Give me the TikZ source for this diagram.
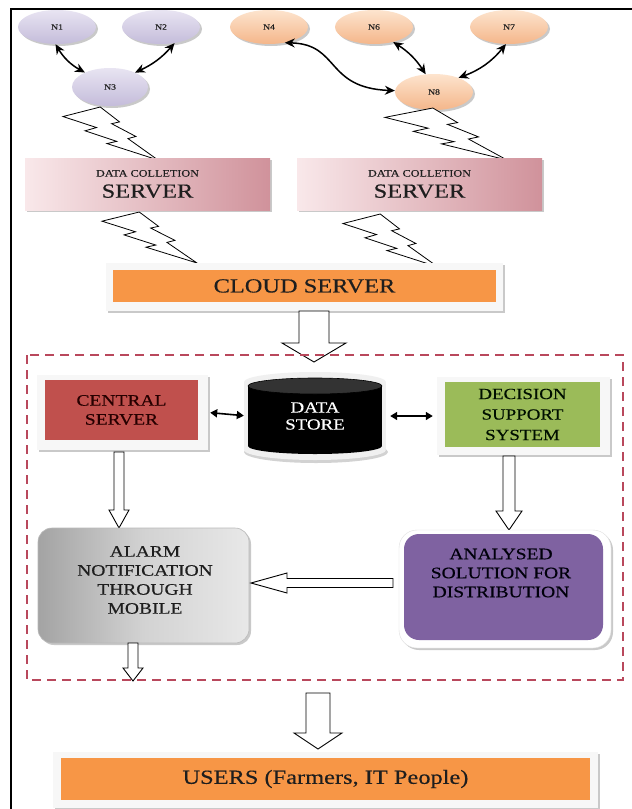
\documentclass[tikz,border=0pt]{standalone}
\usepackage{fontspec}
\setmainfont{Liberation Serif}[FakeStretch=1.22,FakeBold=0.35]
\usetikzlibrary{arrows.meta,shadows,shapes.geometric}
\definecolor{lav1}{HTML}{E8E4F2}
\definecolor{lav2}{HTML}{C4BCDA}
\definecolor{peach1}{HTML}{FDE4CE}
\definecolor{peach2}{HTML}{F4B68A}
\definecolor{pink1}{HTML}{F9E8EA}
\definecolor{pink2}{HTML}{D0929B}
\definecolor{orng}{HTML}{F79646}
\definecolor{redbox}{HTML}{C0504D}
\definecolor{greenbox}{HTML}{9BBB59}
\definecolor{purplebox}{HTML}{7F62A1}
\definecolor{dashred}{HTML}{B9485C}
\definecolor{txt}{HTML}{1E1E1E}
\tikzset{
  shad/.style={drop shadow={shadow xshift=2pt,shadow yshift=-2pt,opacity=0.35,fill=black!60}},
  nlav/.style={ellipse,minimum width=78pt,minimum height=34pt,top color=lav1,bottom color=lav2,shad,
    font=\fontsize{8}{9}\selectfont,text=txt,inner sep=0pt},
  npch/.style={ellipse,minimum width=78pt,minimum height=34pt,top color=peach1,bottom color=peach2,shad,
    font=\fontsize{8}{9}\selectfont,text=txt,inner sep=0pt},
  conn/.style={line width=1.5pt,{Stealth[length=10pt,width=9pt]}-{Stealth[length=10pt,width=9pt]}},
  dbl/.style={line width=1.6pt,{Triangle[length=7pt,width=8pt]}-{Triangle[length=7pt,width=8pt]}},
  bolt/.style={draw=black,fill=white,line width=0.8pt,line join=miter},
  hollow/.style={draw=black,fill=white,line width=0.9pt,line join=miter},
  server/.style={rectangle,minimum width=245pt,minimum height=52pt,left color=pink1,right color=pink2,
    shad,align=center,text=txt,inner sep=0pt,font=\fontsize{20}{21}\selectfont},
  frame/.style={rectangle,fill=gray!6,shad,inner sep=0pt},
  boxtxt/.style={align=center,font=\fontsize{16}{19}\selectfont,inner sep=0pt}
}
\newcommand{\hdown}[6]{%
  \draw[hollow] (#1-#5,#2) -- (#1+#5,#2) -- (#1+#5,#3) -- (#1+#6,#3) -- (#1,#4) -- (#1-#6,#3) -- (#1-#5,#3) -- cycle;}
\newcommand{\lbolt}[4]{%
  \begin{scope}[shift={(#1,#2)},x=#3pt,y=-#4pt]
  \draw[bolt] (0.392,0) -- (0.595,0.281) -- (0.512,0.315) -- (0.767,0.556) -- (0.684,0.596) -- (1,1)
    -- (0.463,0.690) -- (0.566,0.648) -- (0.232,0.449) -- (0.353,0.388) -- (0,0.180) -- cycle;
  \end{scope}}
\begin{document}
\begin{tikzpicture}[x=1pt,y=-1pt]
\useasboundingbox (0,0) rectangle (632,809);
\fill[white] (0,0) rectangle (632,809);
% outer border lines
\draw[line width=1.5pt] (11,809) -- (11,9) -- (632,9);

% sensor nodes
\node[nlav] (n1) at (57,27) {N1};
\node[nlav] (n2) at (161,27) {N2};
\node[nlav,minimum width=76pt,minimum height=38pt] (n3) at (110,87) {N3};
\node[npch] (n4) at (269,27) {N4};
\node[npch] (n6) at (374,27) {N6};
\node[npch] (n7) at (509,27) {N7};
\node[npch,minimum width=78pt,minimum height=36pt] (n8) at (434,92) {N8};

\draw[conn] (n1.-95) to[bend right=15] (n3.150);
\draw[conn] (n2.-50) to[bend left=12] (n3.30);
\draw[conn] (n4.-45) .. controls (340,44) and (325,88) .. (n8.178);
\draw[conn] (n6.-38) to[bend left=12] (n8.115);
\draw[conn] (n7.-100) to[bend left=15] (n8.30);

% lightning bolts
\lbolt{63}{107}{95}{53}
\lbolt{385}{108}{122}{52}
\lbolt{102}{212}{95}{51}
\lbolt{343}{214}{95}{53}

% data collection servers
\node[server] (s1) at (147.5,184) {{\fontsize{10}{12}\selectfont DATA COLLETION}\\{SERVER}};
\node[server] (s2) at (419.5,184) {{\fontsize{10}{12}\selectfont DATA COLLETION}\\{SERVER}};

% cloud server
\node[frame,minimum width=397pt,minimum height=48pt] (cloudf) at (304.5,287) {};
\node[rectangle,fill=orng,minimum width=383pt,minimum height=32pt,inner sep=0pt,
  font=\fontsize{20}{22}\selectfont,text=txt] (cloud) at (304.5,286) {CLOUD SERVER};

\hdown{314}{311}{343}{362}{15}{32}

% dashed container
\draw[dashred,line width=2.2pt,dash pattern=on 9pt off 6pt] (27,355) rectangle (623,680);

% central server
\node[frame,minimum width=171pt,minimum height=75pt] (csf) at (122.5,412.5) {};
\node[rectangle,fill=redbox,minimum width=153pt,minimum height=60pt,boxtxt,text={black!75!red!60!black}] (cs) at (121.5,410) {CENTRAL\\SERVER};

% data store cylinder
\fill[gray!12] (315,382) ellipse [x radius=71, y radius=10];
\fill[gray!12] (244,382) rectangle (386,450);
\fill[gray!35] (316,452) ellipse [x radius=72, y radius=11];
\fill[gray!12] (315,450) ellipse [x radius=71, y radius=10];
\fill[black] (248,386) rectangle (382,446);
\fill[black] (315,446) ellipse [x radius=67, y radius=8];
\fill[black!80] (315,386) ellipse [x radius=67, y radius=8];
\draw[black,line width=0.6pt] (315,386) ellipse [x radius=67, y radius=8];
\node[boxtxt,font=\fontsize{15.5}{17}\selectfont,text=white,minimum width=134pt,minimum height=76pt] (ds) at (315,416) {DATA\\STORE};

% decision support system
\node[frame,minimum width=173pt,minimum height=78pt] (dssf) at (523.5,416) {};
\node[rectangle,fill=greenbox,minimum width=155pt,minimum height=65pt,boxtxt,
  font=\fontsize{15.5}{20.5}\selectfont,text={black!85!green!40!black}] (dss) at (522.5,414.5) {DECISION\\SUPPORT\\SYSTEM};

\draw[dbl,shorten <=2pt,shorten >=4pt] (csf.east) -- (ds.west);
\draw[dbl,shorten <=8pt,shorten >=4pt] (ds.east) -- (dssf.west);

% down arrows inside
\hdown{119}{452}{510}{528}{5}{10}
\hdown{509}{456}{511}{530}{6}{13}

% alarm box
\node[rectangle,rounded corners=14pt,left color=gray!72,right color=gray!18,middle color=gray!35,
  draw=gray!55,line width=0.6pt,shad,minimum width=211pt,minimum height=115pt,boxtxt,text=txt] (alarm) at (143.5,585.5) {};
\node[boxtxt,text=txt,font=\fontsize{16}{19}\selectfont] (alarmt) at (145,580) {ALARM\\NOTIFICATION\\THROUGH\\MOBILE};

% analysed solution
\node[rectangle,rounded corners=18pt,fill=white,draw=gray!25,shad,minimum width=212pt,minimum height=118pt] (anf) at (505,589) {};
\node[rectangle,rounded corners=15pt,fill=purplebox,minimum width=199pt,minimum height=106pt] (an) at (503.5,587) {};
\node[boxtxt,text={black!85!blue!30!black}] (ant) at (501,573) {ANALYSED\\SOLUTION FOR\\DISTRIBUTION};

% horizontal hollow arrow
\draw[hollow] (393,578.5) -- (287,578.5) -- (287,573) -- (251,583) -- (287,593) -- (287,587.5) -- (393,587.5) -- cycle;

\hdown{133}{643}{668}{681}{5}{10}

% bottom arrow
\hdown{318}{693}{733}{749}{12}{24}

% users
\node[frame,minimum width=545pt,minimum height=56pt] (usersf) at (325.5,780) {};
\node[rectangle,fill=orng,minimum width=529pt,minimum height=42pt,inner sep=0pt,
  font=\fontsize{20}{22}\selectfont,text=txt] (users) at (325.5,779) {USERS (Farmers, IT People)};
\end{tikzpicture}
\end{document}
